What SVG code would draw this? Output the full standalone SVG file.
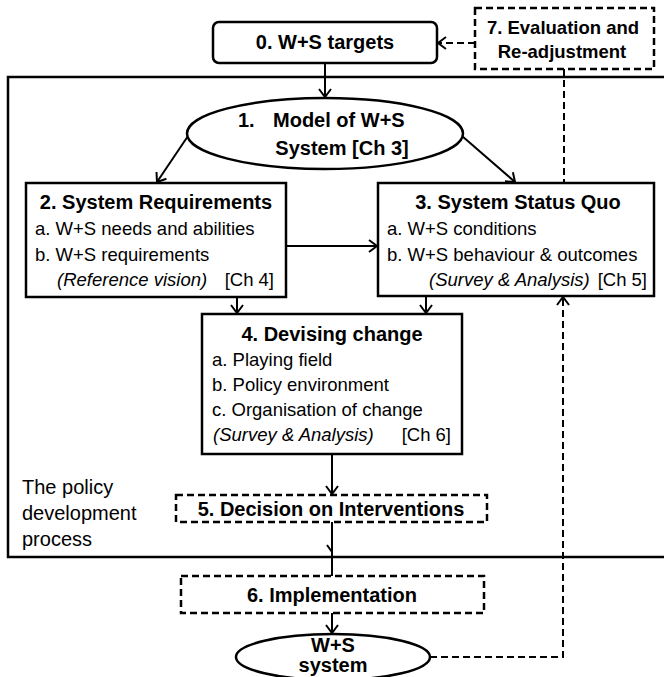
<svg xmlns="http://www.w3.org/2000/svg" width="664" height="677" viewBox="0 0 664 677">
  <style>
    .box { fill: #fff; stroke: #000; stroke-width: 2.5; }
    .dash { stroke-dasharray: 7 4; }
    .frame { fill: none; stroke: #000; stroke-width: 2.5; }
    .t { font-family: "Liberation Sans", Arial, sans-serif; fill: #000; }
    .b { font-weight: bold; font-size: 20px; }
    .b7 { font-weight: bold; font-size: 18.5px; }
    .r { font-size: 18.5px; }
    .side { font-size: 20px; }
    .i { font-style: italic; }
    .c { text-anchor: middle; }
    .e { text-anchor: end; }
    .conn { fill: none; stroke: #000; stroke-width: 2; }
  </style>
  <defs>
    <marker id="arrow" markerUnits="userSpaceOnUse" markerWidth="16" markerHeight="16" viewBox="-10 -8 12 16" refX="0" refY="0" orient="auto">
      <path d="M -8 -6 L 0 0 L -8 6" fill="none" stroke="#000" stroke-width="2"/>
    </marker>
  </defs>

  <!-- policy development process frame (open to the right) -->
  <g id="frame">
    <rect class="frame" x="8" y="77" width="700" height="480"/>
    <text class="t side" x="22" y="494">The policy</text>
    <text class="t side" x="22" y="520">development</text>
    <text class="t side" x="22" y="546">process</text>
  </g>

  <!-- connectors -->
  <g id="connectors">
    <line class="conn" x1="325" y1="63" x2="325" y2="97" marker-end="url(#arrow)"/>
    <line class="conn" x1="188" y1="136" x2="157" y2="182" marker-end="url(#arrow)"/>
    <line class="conn" x1="462" y1="136" x2="515" y2="182" marker-end="url(#arrow)"/>
    <line class="conn" x1="286" y1="246" x2="377" y2="246" marker-end="url(#arrow)"/>
    <line class="conn" x1="237" y1="297" x2="237" y2="313" marker-end="url(#arrow)"/>
    <line class="conn" x1="426" y1="296" x2="426" y2="313" marker-end="url(#arrow)"/>
    <line class="conn" x1="332" y1="454" x2="332" y2="494" marker-end="url(#arrow)"/>
    <line class="conn" x1="332" y1="522" x2="332" y2="576"/>
    <line class="conn" x1="327" y1="545" x2="332" y2="552"/>
    <line class="conn" x1="332" y1="613" x2="332" y2="633" marker-end="url(#arrow)"/>
    <line class="conn dash" x1="475" y1="43" x2="438" y2="43" marker-end="url(#arrow)"/>
    <line class="conn dash" x1="564" y1="69" x2="564" y2="183"/>
    <path class="conn dash" d="M 430 657 H 563 V 297" marker-end="url(#arrow)"/>
  </g>

  <g id="node0">
    <rect class="box" x="213" y="22" width="224" height="41" rx="6"/>
    <text class="t b c" x="325" y="49">0. W+S targets</text>
  </g>

  <g id="node7">
    <rect class="box dash" x="475" y="8" width="179" height="61"/>
    <text class="t b7 c" x="563" y="34">7. Evaluation and</text>
    <text class="t b7 c" x="562" y="58">Re-adjustment</text>
  </g>

  <g id="node1">
    <ellipse class="box" cx="325" cy="133.5" rx="138" ry="35.5"/>
    <text class="t b" x="238" y="127">1.</text>
    <text class="t b" x="273" y="127">Model of W+S</text>
    <text class="t b c" x="342" y="155">System [Ch 3]</text>
  </g>

  <g id="node2">
    <rect class="box" x="26" y="183" width="260" height="114"/>
    <text class="t b c" x="156" y="209">2. System Requirements</text>
    <text class="t r" x="35" y="235">a. W+S needs and abilities</text>
    <text class="t r" x="35" y="261">b. W+S requirements</text>
    <text class="t r i" x="57" y="286">(Reference vision)</text>
    <text class="t r e" x="274" y="286">[Ch 4]</text>
  </g>

  <g id="node3">
    <rect class="box" x="378" y="183" width="276" height="113"/>
    <text class="t b c" x="518" y="209">3. System Status Quo</text>
    <text class="t r" x="387" y="235">a. W+S conditions</text>
    <text class="t r" x="387" y="261">b. W+S behaviour &amp; outcomes</text>
    <text class="t r i" x="429" y="286">(Survey &amp; Analysis)</text>
    <text class="t r e" x="647" y="286">[Ch 5]</text>
  </g>

  <g id="node4">
    <rect class="box" x="202" y="314" width="260" height="140"/>
    <text class="t b c" x="332" y="341">4. Devising change</text>
    <text class="t r" x="212" y="366">a. Playing field</text>
    <text class="t r" x="212" y="391">b. Policy environment</text>
    <text class="t r" x="212" y="416">c. Organisation of change</text>
    <text class="t r i" x="213" y="441">(Survey &amp; Analysis)</text>
    <text class="t r e" x="451" y="441">[Ch 6]</text>
  </g>

  <g id="node5">
    <rect class="box dash" x="176" y="495" width="311" height="27"/>
    <text class="t b c" x="331" y="516">5. Decision on Interventions</text>
  </g>

  <g id="node6">
    <rect class="box dash" x="181" y="576" width="303" height="37"/>
    <text class="t b c" x="332" y="602">6. Implementation</text>
  </g>

  <g id="node8">
    <ellipse class="box" cx="333" cy="657" rx="97" ry="23"/>
    <text class="t b c" x="333" y="652">W+S</text>
    <text class="t b c" x="333" y="672">system</text>
  </g>
</svg>
